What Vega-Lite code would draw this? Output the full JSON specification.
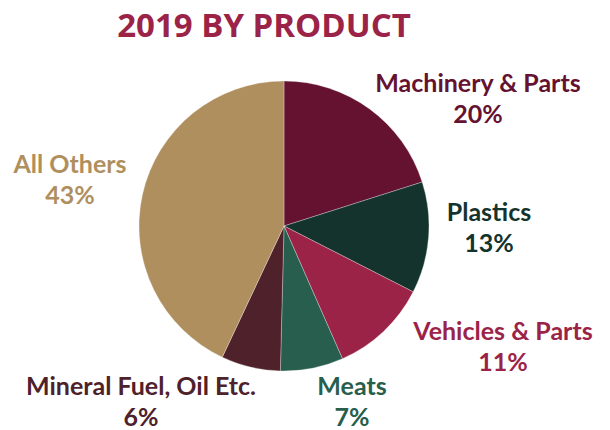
{
  "$schema": "https://vega.github.io/schema/vega-lite/v6.json",
  "width": 568,
  "height": 372,
  "autosize": {"type": "none"},
  "padding": {"left": 0, "top": 40, "right": 42, "bottom": 18},
  "background": "white",
  "title": {
    "text": "2019 BY PRODUCT",
    "font": "Open Sans",
    "fontSize": 33,
    "fontWeight": "bold",
    "color": "#9B2348",
    "anchor": "middle",
    "dx": -20,
    "offset": -30,
    "baseline": "alphabetic"
  },
  "data": {
    "values": [
      {"order": 1, "name": "Machinery & Parts", "label": "Machinery & Parts\n20%", "value": 20.1},
      {"order": 2, "name": "Plastics", "label": "Plastics\n13%", "value": 12.4},
      {"order": 3, "name": "Vehicles & Parts", "label": "Vehicles & Parts\n11%", "value": 10.9},
      {"order": 4, "name": "Meats", "label": "Meats\n7%", "value": 7.0},
      {"order": 5, "name": "Mineral Fuel, Oil Etc.", "label": "Mineral Fuel, Oil Etc.\n6%", "value": 6.6},
      {"order": 6, "name": "All Others", "label": "All Others\n43%", "value": 43.0}
    ]
  },
  "layer": [
    {
      "mark": {"type": "arc", "outerRadius": 145, "stroke": "white", "strokeWidth": 0.3},
      "encoding": {
        "theta": {"field": "value", "type": "quantitative", "stack": true},
        "order": {"field": "order", "type": "quantitative", "sort": "ascending"},
        "color": {
          "field": "name",
          "type": "nominal",
          "legend": null,
          "scale": {
            "domain": ["Machinery & Parts", "Plastics", "Vehicles & Parts", "Meats", "Mineral Fuel, Oil Etc.", "All Others"],
            "range": ["#651230", "#14332C", "#9C2348", "#285E4D", "#4E212B", "#B08F5F"]
          }
        }
      }
    },
    {
      "mark": {
        "type": "text",
        "font": "Lato",
        "fontSize": 25,
        "fontWeight": "bold",
        "lineBreak": "\n",
        "lineHeight": 31,
        "align": "center",
        "baseline": "middle"
      },
      "encoding": {
        "theta": {
          "field": "order",
          "type": "quantitative",
          "stack": null,
          "scale": {"type": "linear", "zero": false, "nice": false, "domain": [1, 2, 3, 4, 5, 6], "range": [0.939, 1.5075, 2.0217, 2.7419, 3.8678, 4.9901]}
        },
        "radius": {
          "field": "order",
          "type": "quantitative",
          "scale": {"type": "linear", "zero": false, "nice": false, "domain": [1, 2, 3, 4, 5, 6], "range": [240.4, 205.4, 243.3, 174.8, 215.3, 222.5]}
        },
        "text": {"field": "label", "type": "nominal"},
        "color": {"field": "name", "type": "nominal", "legend": null}
      }
    }
  ],
  "resolve": {"scale": {"theta": "independent", "radius": "independent"}},
  "view": {"stroke": null}
}
